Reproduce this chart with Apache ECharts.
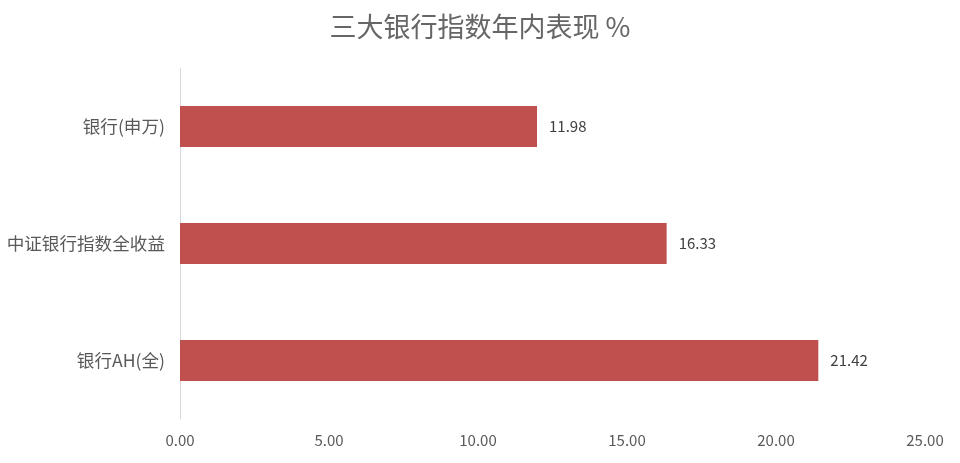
<!DOCTYPE html>
<html>
<head>
<meta charset="utf-8">
<script src="https://cdn.jsdelivr.net/npm/echarts@6/dist/echarts.min.js"></script>
<style>html,body{margin:0;padding:0;background:#fff;}#c{width:960px;height:463px;}</style>
</head>
<body>
<div id="c"></div>
<script>
var categories = ['银行(申万)', '中证银行指数全收益', '银行AH(全)'];
var values = [11.98, 16.33, 21.42];
var tickMin = 0, tickMax = 25, tickStep = 5;
var titleText = '三大银行指数年内表现 %';

var FONT = '"Liberation Sans Narrow", "Noto Sans CJK SC", sans-serif';
var chart = echarts.init(document.getElementById('c'));
chart.setOption({
  backgroundColor: '#fff',
  animation: false,
  title: {
    text: titleText,
    left: 'center',
    top: 8,
    textStyle: { fontSize: 27, fontWeight: 'normal', color: '#666666', fontFamily: '"Noto Sans CJK SC", sans-serif' }
  },
  grid: { left: 180, right: 35, top: 68, bottom: 44, containLabel: false },
  xAxis: {
    type: 'value',
    min: tickMin, max: tickMax, interval: tickStep,
    axisLine: { show: false },
    axisTick: { show: false },
    splitLine: { show: false },
    axisLabel: {
      formatter: function (v) { return v.toFixed(2); },
      color: '#595959', fontSize: 15, margin: 14, fontFamily: FONT
    }
  },
  yAxis: {
    type: 'category',
    data: categories,
    inverse: true,
    axisLine: { show: true, lineStyle: { color: '#d9d9d9', width: 1 } },
    axisTick: { show: false },
    axisLabel: { color: '#595959', fontSize: 17.6, margin: 15, fontFamily: '"Noto Sans CJK SC", sans-serif' }
  },
  series: [{
    type: 'bar',
    data: values,
    barWidth: 41,
    itemStyle: { color: '#C0504D' },
    label: {
      show: true, position: 'right', distance: 12,
      formatter: function (p) { return p.value.toFixed(2); },
      color: '#404040', fontSize: 15, fontFamily: FONT
    }
  }]
});
</script>
</body>
</html>
